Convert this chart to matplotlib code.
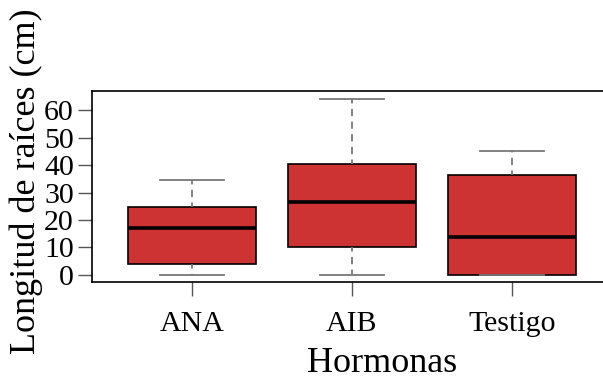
import matplotlib
matplotlib.use("Agg")
import matplotlib.pyplot as plt

# values
grupos = ["ANA", "AIB", "Testigo"]
bigote_inf = [0, 0, 0]
q1 = [4, 10, 0]
mediana = [17, 26.6, 13.9]
q3 = [24.8, 40.3, 36.5]
bigote_sup = [34.7, 64.2, 45.1]
yticks = [0, 10, 20, 30, 40, 50, 60]

plt.rcParams["font.family"] = ["Liberation Serif", "DejaVu Serif"]

stats = []
for i, g in enumerate(grupos):
    stats.append({"label": g, "whislo": bigote_inf[i], "q1": q1[i], "med": mediana[i],
                  "q3": q3[i], "whishi": bigote_sup[i], "fliers": []})

fig = plt.figure(figsize=(6.03, 3.8), dpi=100)
ax = fig.add_axes([0.1526, 0.2579, 0.8619, 0.5026])

ax.bxp(stats, positions=[1, 2, 3], widths=0.8, patch_artist=True, showfliers=False,
       boxprops=dict(facecolor="#CD3333", edgecolor="black", linewidth=1.2),
       medianprops=dict(color="black", linewidth=2.6),
       whiskerprops=dict(color="#777777", linewidth=1.3, linestyle=(1.5, (4, 3))),
       capprops=dict(color="#777777", linewidth=1.3),
       capwidths=0.4)

ax.set_xlim(0.377, 3.623)
ax.set_ylim(-2.67, 67.1)
ax.set_yticks(yticks)
ax.set_yticklabels([str(v) for v in yticks])
ax.set_xticks([1, 2, 3])
ax.set_xticklabels(grupos)
for s in ax.spines.values():
    s.set_linewidth(1.2)
ax.tick_params(axis="both", labelsize=21.5, length=10, width=1, color="#555555")
ax.tick_params(axis="y", pad=3)
ax.tick_params(axis="x", pad=11)

ax.set_ylabel("Longitud de raíces (cm)", fontsize=26)
ax.yaxis.set_label_coords(-0.094, 0.526)
fig.text(382 / 603, 1 - 363 / 380, "Hormonas", fontsize=26, ha="center", va="center")

fig.savefig("out.png", dpi=100)
